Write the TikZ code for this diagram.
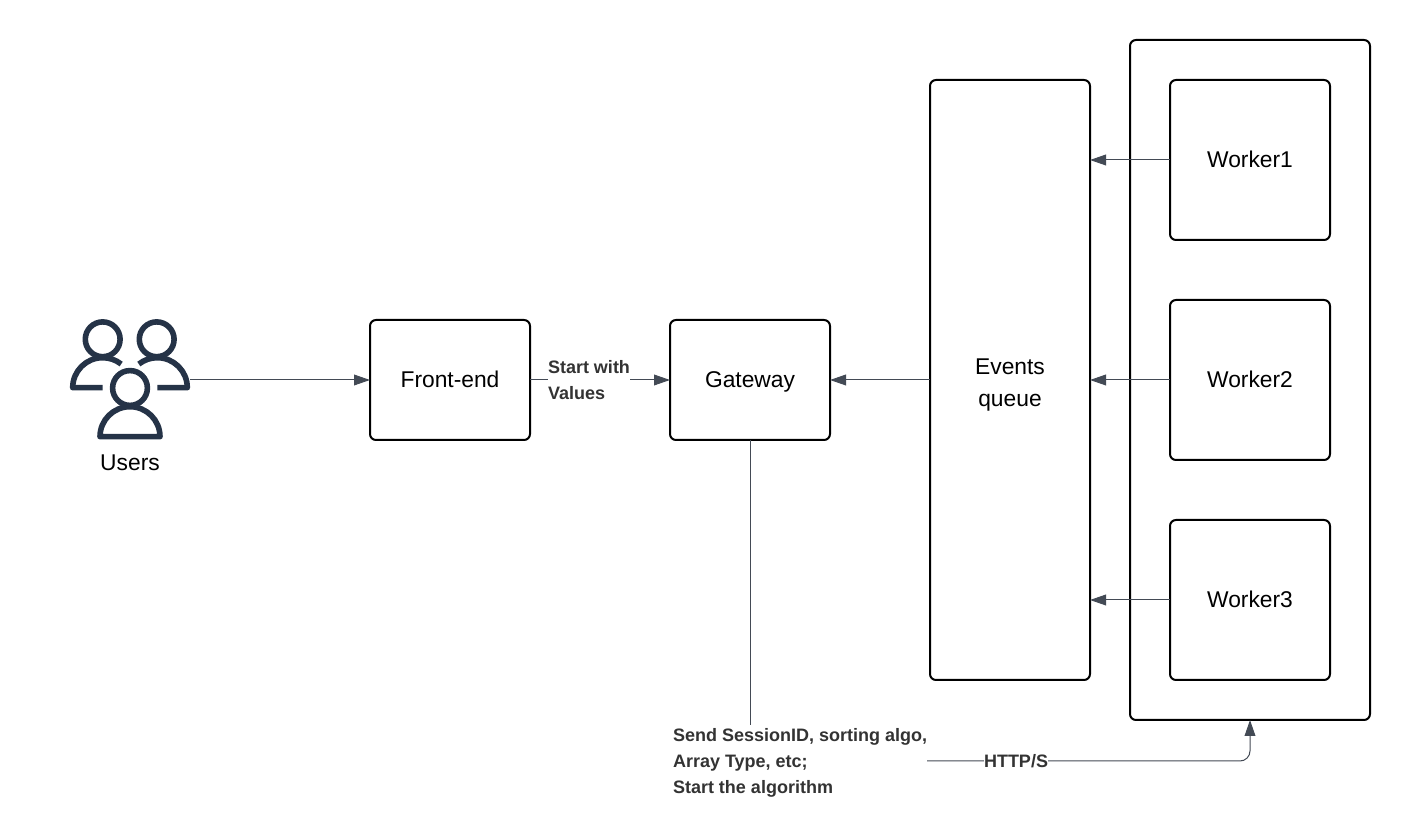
\documentclass[tikz,border=0pt]{standalone}
\usepackage{fontspec}
\setmainfont{Liberation Sans}
\usetikzlibrary{arrows.meta,positioning}
\definecolor{iconblue}{HTML}{253347}
\definecolor{linegray}{HTML}{434A55}
\definecolor{labelgray}{HTML}{333333}
\tikzset{
  box/.style={draw=black,line width=1pt,rounded corners=3pt,outer sep=0pt,inner sep=0pt,align=center,
    text height=8pt,text depth=0.4pt,font=\fontsize{11.4}{16}\selectfont},
  link/.style={draw=linegray,line width=0.5pt,-{Triangle[length=8pt,width=5.4pt]}},
  plainlink/.style={draw=linegray,line width=0.5pt},
  edgelabel/.style={fill=white,inner sep=0pt,outer sep=0pt,align=left,text=labelgray,
    font=\fontsize{9}{13}\selectfont\bfseries},
  usericon/.style={draw=iconblue,line width=2.8pt,line join=round}
}
\begin{document}
\begin{tikzpicture}[x=0.5pt,y=-0.5pt]
\useasboundingbox (0,0) rectangle (1410,838);
% boxes
\node[box,minimum width=120pt,minimum height=340pt] (pool) at (1250,380) {};
\node[box,minimum width=80pt,minimum height=80pt] (worker1) at (1250,160) {Worker1};
\node[box,minimum width=80pt,minimum height=80pt] (worker2) at (1250,380) {Worker2};
\node[box,minimum width=80pt,minimum height=80pt] (worker3) at (1250,600) {Worker3};
\node[box,minimum width=80pt,minimum height=300pt,text height=27pt] (queue) at (1010,380) {Events\\queue};
\node[box,minimum width=80pt,minimum height=60pt] (gateway) at (750,380) {Gateway};
\node[box,minimum width=80pt,minimum height=60pt] (frontend) at (450,380) {Front-end};
% users icon
\node[minimum width=60pt,minimum height=60pt,inner sep=0pt,outer sep=0pt] (users) at (130,380) {};
\node[font=\fontsize{11.4}{14}\selectfont,inner sep=0pt] (userstext) at (130,463) {Users};
\draw[usericon] (102.7,339.3) circle (8.7pt);
\draw[usericon] (156.7,339.3) circle (8.7pt);
\draw[usericon] (130,388) circle (8.7pt);
\draw[usericon] (102.7,387.7) -- (72.7,387.7) arc (180:308:30);
\draw[usericon] (157.3,387.7) -- (187.3,387.7) arc (360:232:30);
\draw[usericon] (100,436.7) arc (180:360:30) -- cycle;
% labels
\node[edgelabel] (startlabel) at (589,380) {Start with\\Values};
\node[edgelabel,anchor=north west,inner ysep=1.5pt] (sendlabel) at (673,725) {Send SessionID, sorting algo,\\Array Type, etc;\\Start the algorithm};
\coordinate (httpturn) at (1250,761);
% connectors
\draw[link] (users.east) -- (frontend.west);
\draw[plainlink] (frontend.east) -- (startlabel.west);
\draw[link] (startlabel.east) -- (gateway.west);
\draw[link] (queue.west) -- (gateway.east);
\draw[link] (worker1.west) -- (worker1.west -| queue.east);
\draw[link] (worker2.west) -- (queue.east);
\draw[link] (worker3.west) -- (worker3.west -| queue.east);
\draw[plainlink] (gateway.south) -- (gateway.south |- sendlabel.north);
\draw[link,rounded corners=5pt] (sendlabel.east |- httpturn) -- (httpturn) -- (pool.south);
\node[edgelabel] (httplabel) at (1016,761) {HTTP/S};
\end{tikzpicture}
\end{document}
